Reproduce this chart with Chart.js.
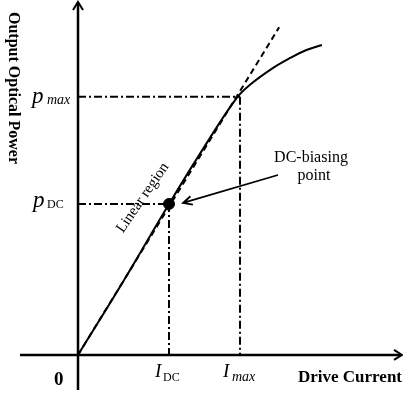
<!DOCTYPE html>
<html>
<head>
<meta charset="utf-8">
<script src="https://cdn.jsdelivr.net/npm/chart.js@4.4.0/dist/chart.umd.min.js"></script>
<style>
  html, body { margin: 0; padding: 0; background: #fff; }
  #wrap { width: 403px; height: 401px; }
</style>
</head>
<body>
<div id="wrap"><canvas id="chart" width="403" height="401"></canvas></div>
<script>
// characteristic curve (arbitrary units: I_DC = 1, p_DC = 1)
const curveCurrent = [0, 0.5, 1.0, 1.4, 1.74, 1.89, 2.14, 2.33, 2.51, 2.68];
const curvePower   = [0, 0.49, 1.0, 1.39, 1.70, 1.79, 1.90, 1.967, 2.02, 2.053];

// linear extrapolation (dashed)
const tangentCurrent = [0, 2.21];
const tangentPower   = [0, 2.17];

// bias and max points
const biasCurrent = 1.0, biasPower = 1.0;
const maxCurrent = 1.78, maxPower = 1.71;

// axis ranges
const xRange = [-0.857, 3.571];
const yRange = [-0.305, 2.351];

const toPts = (xs, ys) => xs.map((x, i) => ({ x: x, y: ys[i] }));
const dashDot = [8, 3, 2, 3];

const lineDs = (data, extra) => Object.assign({
  data: data, showLine: true, borderColor: '#000', borderWidth: 2,
  pointRadius: 0, fill: false, clip: false
}, extra);

// axes, arrows and labels
const decor = {
  id: 'decor',
  afterDatasetsDraw(chart) {
    const ctx = chart.ctx;
    const xs = chart.scales.x, ys = chart.scales.y;
    const x0 = xs.getPixelForValue(0), y0 = ys.getPixelForValue(0);
    ctx.save();
    ctx.strokeStyle = '#000';
    ctx.fillStyle = '#000';
    ctx.lineWidth = 2.5;
    ctx.setLineDash([]);
    // axes
    ctx.beginPath();
    ctx.moveTo(20, y0); ctx.lineTo(401, y0);
    ctx.moveTo(x0, 390); ctx.lineTo(x0, 3);
    ctx.stroke();
    ctx.lineWidth = 2;
    ctx.beginPath();
    ctx.moveTo(394, y0 - 5); ctx.lineTo(402, y0); ctx.lineTo(394, y0 + 5);
    ctx.moveTo(x0 - 5, 10); ctx.lineTo(x0, 2); ctx.lineTo(x0 + 5, 10);
    ctx.stroke();

    // pointer from label to bias point
    const bx = xs.getPixelForValue(biasCurrent) + 14, by = ys.getPixelForValue(biasPower) - 1;
    ctx.lineWidth = 1.8;
    ctx.beginPath();
    ctx.moveTo(278, 175); ctx.lineTo(bx, by);
    const a = Math.atan2(175 - by, 278 - bx);
    ctx.moveTo(bx + 10 * Math.cos(a - 0.45), by + 10 * Math.sin(a - 0.45));
    ctx.lineTo(bx, by);
    ctx.lineTo(bx + 10 * Math.cos(a + 0.45), by + 10 * Math.sin(a + 0.45));
    ctx.stroke();

    const serif = '"Liberation Serif", "DejaVu Serif", serif';
    ctx.textBaseline = 'alphabetic';
    ctx.textAlign = 'left';

    // axis titles
    ctx.save();
    ctx.translate(9, 88);
    ctx.rotate(Math.PI / 2);
    ctx.textAlign = 'center';
    ctx.font = 'bold 16px ' + serif;
    ctx.fillText('Output Optical Power', 0, 0);
    ctx.restore();

    ctx.font = 'bold 17px ' + serif;
    ctx.fillText('Drive Current', 298, 382);
    ctx.font = 'bold 19px ' + serif;
    ctx.fillText('0', 54, 385);

    // y labels
    const pm = ys.getPixelForValue(maxPower), pd = ys.getPixelForValue(biasPower);
    ctx.font = 'italic 23px ' + serif;
    ctx.fillText('p', 32, pm + 6);
    ctx.fillText('p', 33, pd + 3);
    ctx.font = 'italic 14px ' + serif;
    ctx.fillText('max', 47, pm + 7);
    ctx.font = '12px ' + serif;
    ctx.fillText('DC', 47, pd + 4);

    // x labels
    const im = xs.getPixelForValue(maxCurrent), id = xs.getPixelForValue(biasCurrent);
    ctx.font = 'italic 19px ' + serif;
    ctx.fillText('I', id - 14, 377);
    ctx.fillText('I', im - 17, 377);
    ctx.font = '12px ' + serif;
    ctx.fillText('DC', id - 6, 381);
    ctx.font = 'italic 14px ' + serif;
    ctx.fillText('max', im - 8, 381);

    // annotations
    ctx.font = '16px ' + serif;
    ctx.textAlign = 'center';
    ctx.fillText('DC-biasing', 311, 162);
    ctx.fillText('point', 314, 180);

    ctx.save();
    ctx.translate(146, 200);
    ctx.rotate(-55.5 * Math.PI / 180);
    ctx.font = '15px ' + serif;
    ctx.fillText('Linear region', 0, 0);
    ctx.restore();

    ctx.restore();
  }
};

new Chart(document.getElementById('chart'), {
  type: 'scatter',
  data: {
    datasets: [
      lineDs(toPts(curveCurrent, curvePower), { tension: 0.4 }),
      lineDs(toPts(tangentCurrent, tangentPower), { borderDash: [6, 4] }),
      lineDs([{ x: 0, y: maxPower }, { x: maxCurrent, y: maxPower }], { borderDash: dashDot }),
      lineDs([{ x: maxCurrent, y: maxPower }, { x: maxCurrent, y: 0 }], { borderDash: dashDot }),
      lineDs([{ x: 0, y: biasPower }, { x: biasCurrent, y: biasPower }], { borderDash: dashDot }),
      lineDs([{ x: biasCurrent, y: biasPower }, { x: biasCurrent, y: 0 }], { borderDash: dashDot }),
      {
        data: [{ x: biasCurrent, y: biasPower }],
        pointRadius: 5.5, pointBackgroundColor: '#000', pointBorderColor: '#000',
        showLine: false, clip: false
      }
    ]
  },
  options: {
    responsive: false,
    animation: false,
    layout: { padding: 0, autoPadding: false },
    plugins: { legend: { display: false }, tooltip: { enabled: false } },
    scales: {
      x: { type: 'linear', display: false, min: xRange[0], max: xRange[1] },
      y: { type: 'linear', display: false, min: yRange[0], max: yRange[1] }
    }
  },
  plugins: [decor]
});
</script>
</body>
</html>
